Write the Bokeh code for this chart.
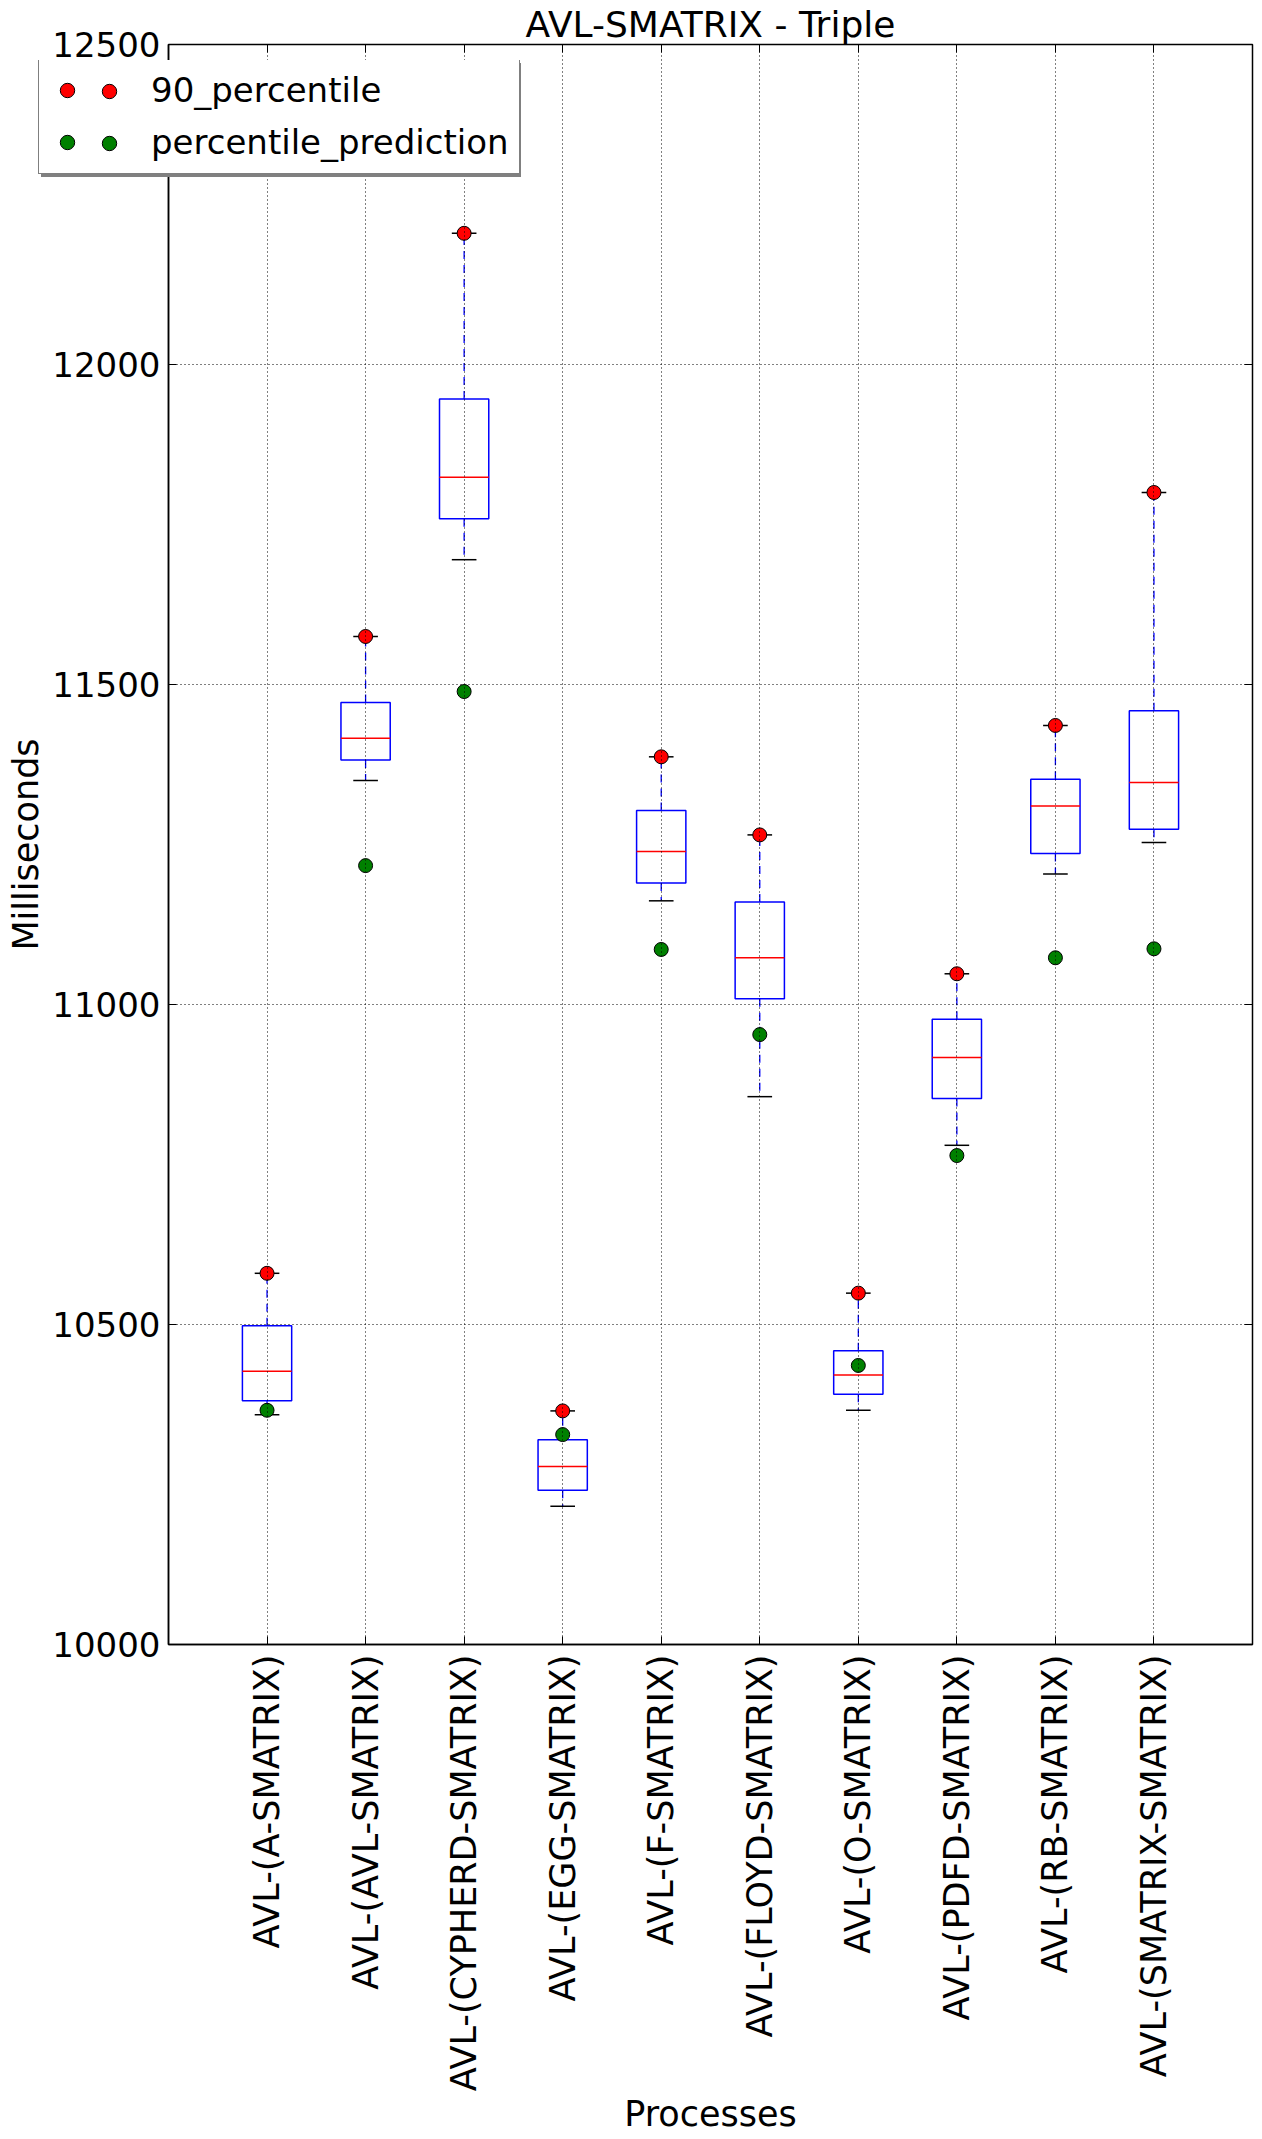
import numpy as np
from bokeh.plotting import figure
from bokeh.layouts import column
from bokeh.models import FixedTicker, Legend, LegendItem, LinearAxis, Range1d
from bokeh.embed import file_html
from bokeh.resources import INLINE

categories = ["AVL-(A-SMATRIX)", "AVL-(AVL-SMATRIX)", "AVL-(CYPHERD-SMATRIX)",
              "AVL-(EGG-SMATRIX)", "AVL-(F-SMATRIX)", "AVL-(FLOYD-SMATRIX)",
              "AVL-(O-SMATRIX)", "AVL-(PDFD-SMATRIX)", "AVL-(RB-SMATRIX)",
              "AVL-(SMATRIX-SMATRIX)"]
whisker_hi = [10580, 11575, 12205, 10365, 11387, 11265, 10549, 11048, 11436, 11800]
q3 = [10498, 11472, 11946, 10320, 11303, 11160, 10459, 10977, 11352, 11459]
median = [10427, 11416, 11824, 10278, 11239, 11073, 10421, 10917, 11310, 11347]
q1 = [10381, 11382, 11759, 10241, 11190, 11009, 10391, 10853, 11236, 11274]
whisker_lo = [10359, 11350, 11695, 10216, 11162, 10856, 10366, 10780, 11204, 11253]
p90 = [10580, 11575, 12205, 10365, 11387, 11265, 10549, 11048, 11436, 11800]
prediction = [10366, 11217, 11489, 10328, 11086, 10953, 10436, 10764, 11073, 11087]
y_ticks = [10000, 10500, 11000, 11500, 12000, 12500]
legend_labels = ["90_percentile", "percentile_prediction"]

FONT = "DejaVu Sans"
BOX_W = 0.5
CAP_W = 0.25

pos = np.arange(1, len(categories) + 1)

p = figure(width=1262, height=2139, output_backend="svg", toolbar_location=None,
           x_range=Range1d(0, len(categories) + 1), y_range=Range1d(y_ticks[0], y_ticks[-1]),
           min_border_left=168, min_border_right=10, min_border_top=44,
           min_border_bottom=495)
p.background_fill_color = "white"
p.border_fill_color = "white"
p.outline_line_color = "black"
p.outline_line_width = 1.5

p.title.text = "AVL-SMATRIX - Triple"
p.title.align = "center"
p.title.text_font = FONT
p.title.text_font_size = "36px"
p.title.text_font_style = "normal"
p.title.text_color = "black"
p.title.standoff = 0
p.title.offset = 0

xa = p.xaxis[0]
xa.ticker = FixedTicker(ticks=[int(v) for v in pos])
xa.major_label_overrides = {int(v): c for v, c in zip(pos, categories)}
xa.major_label_orientation = np.pi / 2
xa.axis_label = "Processes"
ya = p.yaxis[0]
ya.ticker = FixedTicker(ticks=y_ticks)
ya.axis_label = "Milliseconds"
for ax in (xa, ya):
    ax.major_label_text_font = FONT
    ax.major_label_text_color = "black"
    ax.axis_label_text_font = FONT
    ax.axis_label_text_font_size = "35px"
    ax.axis_label_text_font_style = "normal"
    ax.axis_label_text_color = "black"
    ax.major_tick_in = 8
    ax.major_tick_out = 0
    ax.minor_tick_line_color = None
    ax.major_tick_line_color = "black"
    ax.axis_line_color = "black"
    ax.axis_line_width = 1.5
xa.major_label_text_font_size = "35px"
ya.major_label_text_font_size = "34px"
xa.major_label_standoff = 10
xa.axis_label_standoff = 0
ya.major_label_standoff = 8
ya.axis_label_standoff = 3

ra = LinearAxis(ticker=FixedTicker(ticks=y_ticks), major_label_text_font_size="0px",
                major_label_standoff=0, major_tick_in=8, major_tick_out=0,
                minor_tick_line_color=None, axis_line_color="black")
ra.major_label_overrides = {t: "" for t in y_ticks}
p.add_layout(ra, "right")
ta = LinearAxis(ticker=FixedTicker(ticks=[int(v) for v in pos]), major_label_text_font_size="0px",
                major_label_standoff=0, major_tick_in=8, major_tick_out=0,
                minor_tick_line_color=None, axis_line_color="black")
ta.major_label_overrides = {int(v): "" for v in pos}
p.add_layout(ta, "above")

p.xgrid.ticker = FixedTicker(ticks=[int(v) for v in pos])
p.ygrid.ticker = FixedTicker(ticks=y_ticks)
for g in (p.xgrid, p.ygrid):
    g.grid_line_color = "black"
    g.grid_line_dash = "1 3"
    g.grid_line_width = 1
    g.level = "overlay"

p.segment(x0=pos, y0=q3, x1=pos, y1=whisker_hi, line_color="blue", line_width=1.3, line_dash="8 6")
p.segment(x0=pos, y0=q1, x1=pos, y1=whisker_lo, line_color="blue", line_width=1.3, line_dash="8 6")
p.segment(x0=pos - CAP_W / 2, y0=whisker_hi, x1=pos + CAP_W / 2, y1=whisker_hi, line_color="black", line_width=1.5)
p.segment(x0=pos - CAP_W / 2, y0=whisker_lo, x1=pos + CAP_W / 2, y1=whisker_lo, line_color="black", line_width=1.5)
p.vbar(x=pos, width=BOX_W, top=q3, bottom=q1, fill_color=None, line_color="blue", line_width=1.5)
p.segment(x0=pos - BOX_W / 2, y0=median, x1=pos + BOX_W / 2, y1=median, line_color="red", line_width=1.5)

p.scatter(pos, p90, size=14, fill_color="red", line_color="black", line_width=1)
p.scatter(pos, prediction, size=14, fill_color="green", line_color="black", line_width=1)

# ---- legend: small transparent overlay figure, so it may reach over the y axis as in the original.
# Its frame is aligned by the column layout with the main frame (shared left border).
SHARED_LEFT = 168
LH = 114
lf = figure(width=720, height=LH + 3, output_backend="svg", toolbar_location=None, title=None,
            x_range=Range1d(100, 101), y_range=Range1d(100, 101), min_border=0,
            x_axis_location=None, y_axis_location=None,
            styles={"position": "absolute", "left": f"{38 - SHARED_LEFT}px", "top": "60px",
                    "z-index": "10"})
lf.outline_line_color = None
lf.background_fill_alpha = 0
lf.border_fill_alpha = 0
lf.grid.visible = False
lr = lf.scatter(pos, p90, fill_color="red", line_color="black", line_width=1)
lg = lf.scatter(pos, prediction, fill_color="green", line_color="black", line_width=1)
ln = lf.scatter(pos, p90, fill_alpha=0, line_alpha=0)

common = dict(label_text_font=FONT, label_text_font_size="34px",
              glyph_width=36, glyph_height=42, spacing=10, padding=10, margin=0,
              label_standoff=66, label_height=42)
shadow = Legend(items=[LegendItem(label=legend_labels[0], renderers=[ln]),
                       LegendItem(label=legend_labels[1], renderers=[ln])],
                location=(3, 0), border_line_alpha=0,
                background_fill_color="#808080", background_fill_alpha=1,
                label_text_alpha=0, **common)
lf.add_layout(shadow)
leg = Legend(items=[LegendItem(label=legend_labels[0], renderers=[lr]),
                    LegendItem(label=legend_labels[1], renderers=[lg])],
             location=(0, 3), border_line_color="black", border_line_width=1.2,
             background_fill_color="white", background_fill_alpha=1,
             label_text_color="black", **common)
lf.add_layout(leg)
leg2 = Legend(items=[LegendItem(label=" ", renderers=[lr]),
                     LegendItem(label=" ", renderers=[lg])],
              location=(43, 3), border_line_alpha=0, background_fill_alpha=0,
              label_text_color="black", **common)
lf.add_layout(leg2)

layout = column(p, lf)
open("out.html", "w").write(file_html(layout, INLINE))
